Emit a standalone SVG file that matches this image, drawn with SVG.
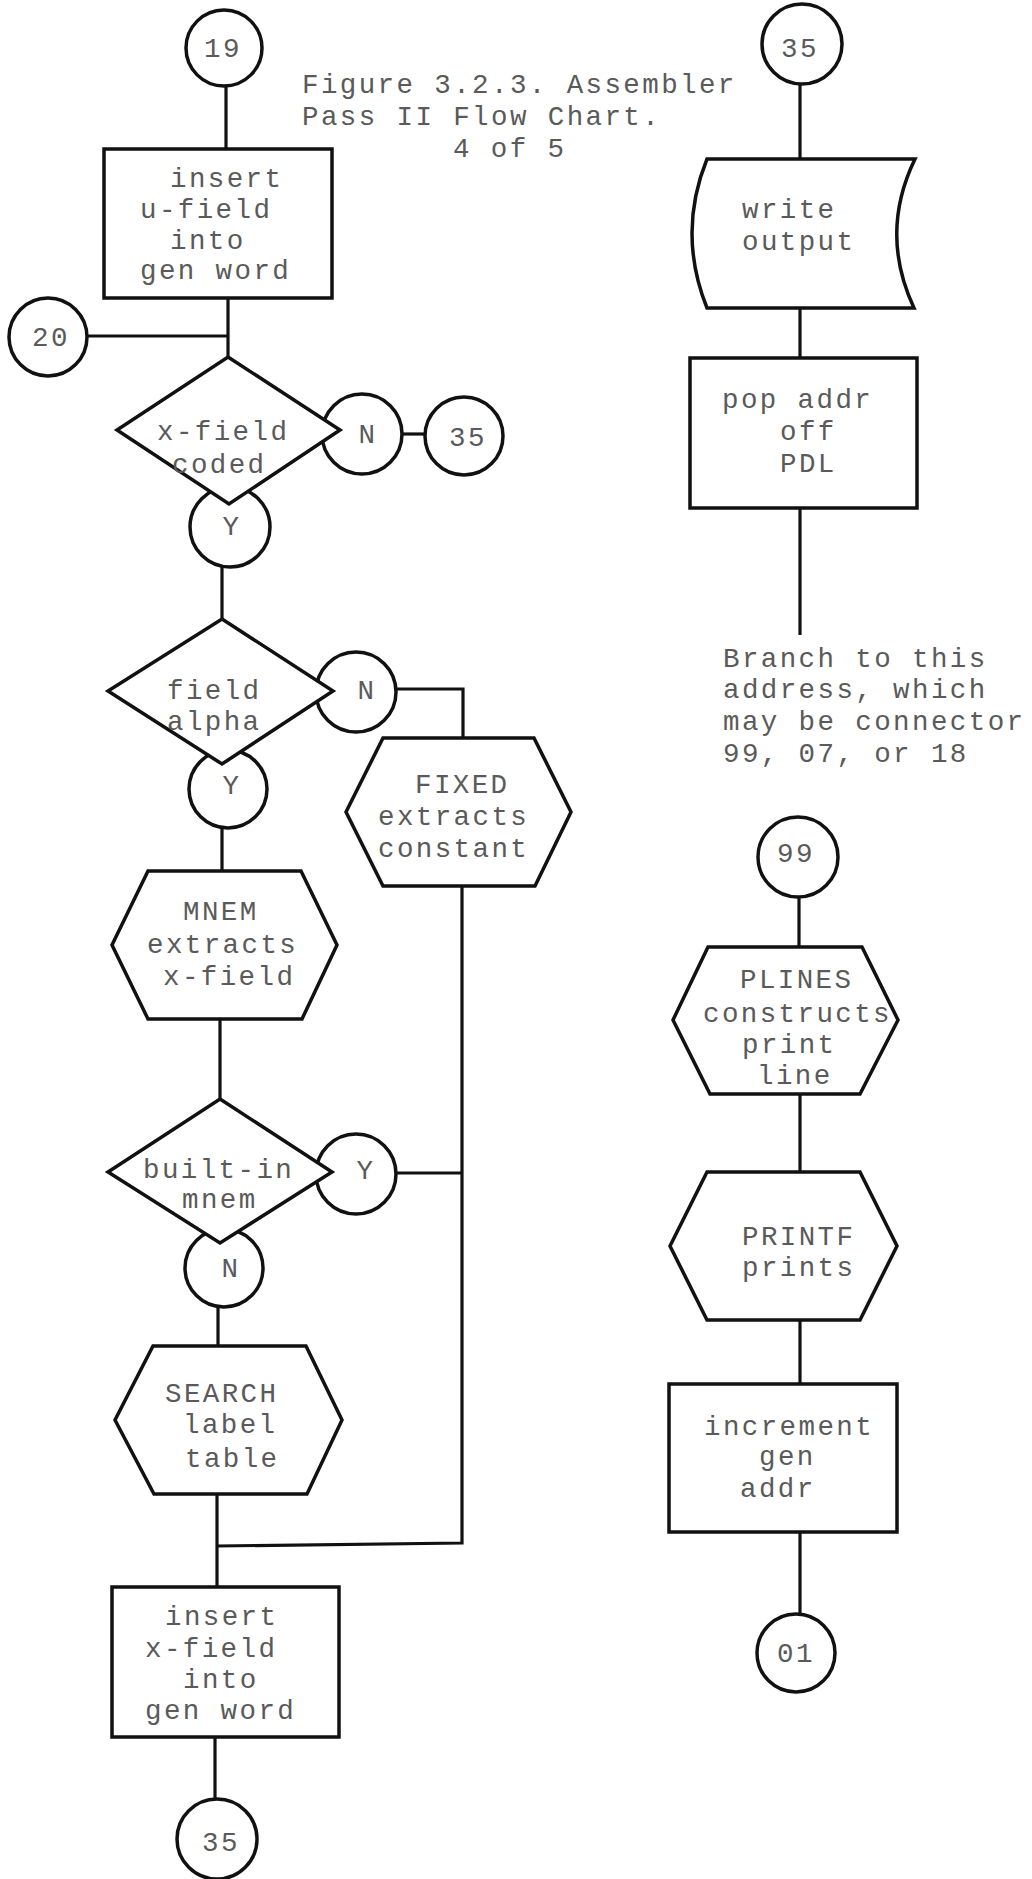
<svg xmlns="http://www.w3.org/2000/svg" width="1032" height="1879" viewBox="0 0 1032 1879">
  <style>
    .shape { fill: #fff; stroke: #111; stroke-width: 3.5; stroke-linejoin: miter; }
    .wire { fill: none; stroke: #111; stroke-width: 3.2; }
    text { font-family: "Liberation Mono", "Courier New", monospace; font-size: 27.5px; letter-spacing: 2.4px; fill: #5a5a5a; }
    .c { text-anchor: middle; }
  </style>
  <rect width="1032" height="1879" fill="#fff"/>

  <!-- title -->
  <g id="title">
    <text x="302" y="93">Figure 3.2.3. Assembler</text>
    <text x="302" y="125">Pass II Flow Chart.</text>
    <text x="453" y="157">4 of 5</text>
  </g>

  <!-- connectors -->
  <g id="connectors" class="wire">
    <path d="M226,86 V149"/>
    <path d="M228,298 V357"/>
    <path d="M88,336 H228"/>
    <path d="M402,434 H425"/>
    <path d="M222,566 V619"/>
    <path d="M396,689 H463 V738"/>
    <path d="M222,828 V871"/>
    <path d="M220,1019 V1099"/>
    <path d="M462,886 V1543 L217,1546"/>
    <path d="M396,1173 H462"/>
    <path d="M218,1307 V1346"/>
    <path d="M217,1494 V1587"/>
    <path d="M215,1737 V1799"/>
    <path d="M800,84 V159"/>
    <path d="M800,308 V358"/>
    <path d="M800,508 V635"/>
    <path d="M799,897 V947"/>
    <path d="M800,1094 V1172"/>
    <path d="M800,1320 V1384"/>
    <path d="M800,1532 V1614"/>
  </g>

  <!-- left column -->
  <g id="n19">
    <circle class="shape" cx="224" cy="48" r="38"/>
    <text class="c" x="223" y="57">19</text>
  </g>
  <g id="insert-u">
    <rect class="shape" x="104" y="149" width="228" height="149"/>
    <text x="170" y="187">insert</text>
    <text x="140" y="218">u-field</text>
    <text x="170" y="249">into</text>
    <text x="140" y="279">gen word</text>
  </g>
  <g id="n20">
    <circle class="shape" cx="48" cy="337" r="39"/>
    <text class="c" x="51" y="346">20</text>
  </g>
  <g id="xcoded-n">
    <circle class="shape" cx="362" cy="434" r="40"/>
    <text class="c" x="368" y="443">N</text>
  </g>
  <g id="n35-a">
    <circle class="shape" cx="464" cy="436" r="39"/>
    <text class="c" x="468" y="446">35</text>
  </g>
  <g id="xcoded-y">
    <circle class="shape" cx="230" cy="527" r="40"/>
    <text class="c" x="232" y="535">Y</text>
  </g>
  <g id="xcoded">
    <polygon class="shape" points="228,357 340,430 229,504 117,430"/>
    <text x="157" y="440">x-field</text>
    <text x="172" y="473">coded</text>
  </g>

  <g id="alpha-n">
    <circle class="shape" cx="356" cy="692" r="40"/>
    <text class="c" x="367" y="699">N</text>
  </g>
  <g id="alpha-y">
    <circle class="shape" cx="228" cy="789" r="39"/>
    <text class="c" x="232" y="794">Y</text>
  </g>
  <g id="alpha">
    <polygon class="shape" points="222,619 333,691 222,764 108,691"/>
    <text x="167" y="699">field</text>
    <text x="167" y="730">alpha</text>
  </g>
  <g id="fixed">
    <polygon class="shape" points="383,738 534,738 571,812 535,886 383,886 346,812"/>
    <text x="415" y="793">FIXED</text>
    <text x="378" y="825">extracts</text>
    <text x="378" y="857">constant</text>
  </g>
  <g id="mnem">
    <polygon class="shape" points="148,871 301,871 337,945 302,1019 148,1019 112,945"/>
    <text x="183" y="920">MNEM</text>
    <text x="147" y="953">extracts</text>
    <text x="163" y="985">x-field</text>
  </g>

  <g id="builtin-y">
    <circle class="shape" cx="356" cy="1174" r="40"/>
    <text class="c" x="366" y="1179">Y</text>
  </g>
  <g id="builtin-n">
    <circle class="shape" cx="224" cy="1268" r="39"/>
    <text class="c" x="231" y="1277">N</text>
  </g>
  <g id="builtin">
    <polygon class="shape" points="220,1099 332,1172 220,1243 108,1172"/>
    <text x="143" y="1178">built-in</text>
    <text x="182" y="1208">mnem</text>
  </g>
  <g id="search">
    <polygon class="shape" points="153,1346 306,1346 342,1420 307,1494 154,1494 115,1420"/>
    <text x="165" y="1402">SEARCH</text>
    <text x="183" y="1433">label</text>
    <text x="185" y="1467">table</text>
  </g>
  <g id="insert-x">
    <rect class="shape" x="112" y="1587" width="227" height="150"/>
    <text x="165" y="1625">insert</text>
    <text x="145" y="1657">x-field</text>
    <text x="183" y="1688">into</text>
    <text x="145" y="1719">gen word</text>
  </g>
  <g id="n35-b">
    <circle class="shape" cx="217" cy="1839" r="40"/>
    <text class="c" x="221" y="1851">35</text>
  </g>

  <!-- right column -->
  <g id="n35-c">
    <circle class="shape" cx="802" cy="44" r="40"/>
    <text class="c" x="800" y="57">35</text>
  </g>
  <g id="write-output">
    <path class="shape" d="M707,159 H915 Q879,233 914,308 H707 Q677,233 707,159 Z"/>
    <text x="742" y="218">write</text>
    <text x="742" y="250">output</text>
  </g>
  <g id="pop">
    <rect class="shape" x="690" y="358" width="227" height="150"/>
    <text x="722" y="408">pop addr</text>
    <text x="780" y="440">off</text>
    <text x="780" y="472">PDL</text>
  </g>
  <g id="branch-note">
    <text x="723" y="667">Branch to this</text>
    <text x="723" y="698">address, which</text>
    <text x="723" y="730">may be connector</text>
    <text x="723" y="762">99, 07, or 18</text>
  </g>
  <g id="n99">
    <circle class="shape" cx="798" cy="857" r="40"/>
    <text class="c" x="796" y="862">99</text>
  </g>
  <g id="plines">
    <polygon class="shape" points="708,947 862,947 898,1020 860,1094 710,1094 673,1020"/>
    <text x="740" y="988">PLINES</text>
    <text x="703" y="1022">constructs</text>
    <text x="742" y="1053">print</text>
    <text x="757" y="1084">line</text>
  </g>
  <g id="printf">
    <polygon class="shape" points="707,1172 860,1172 897,1246 860,1320 707,1320 670,1246"/>
    <text x="742" y="1245">PRINTF</text>
    <text x="742" y="1276">prints</text>
  </g>
  <g id="increment">
    <rect class="shape" x="669" y="1384" width="228" height="148"/>
    <text x="704" y="1435">increment</text>
    <text x="759" y="1465">gen</text>
    <text x="740" y="1497">addr</text>
  </g>
  <g id="n01">
    <circle class="shape" cx="796" cy="1653" r="39"/>
    <text class="c" x="796" y="1662">01</text>
  </g>
</svg>
